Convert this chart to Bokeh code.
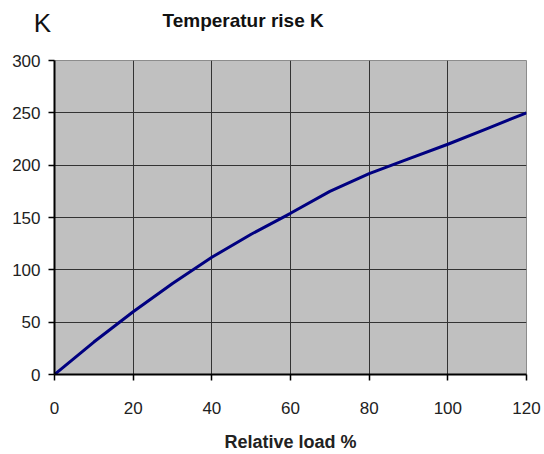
from bokeh.plotting import figure
from bokeh.models import Label, Range1d, FixedTicker
from bokeh.embed import file_html
from bokeh.resources import INLINE

load_pct = [0, 10, 20, 30, 40, 50, 60, 70, 80, 90, 100, 110, 120]
temp_rise = [0, 31, 60, 87, 112, 134, 154, 175, 192, 206, 220, 235, 250]
x_ticks = [0, 20, 40, 60, 80, 100, 120]
y_ticks = [0, 50, 100, 150, 200, 250, 300]

FONT = "Liberation Sans"

p = figure(width=544, height=454, output_backend="svg", toolbar_location=None,
           x_range=Range1d(0, 120), y_range=Range1d(0, 300),
           min_border_left=54, min_border_right=18, min_border_top=60, min_border_bottom=79,
           title="Temperatur rise K")
p.title.text_font = FONT
p.title.text_font_style = "bold"
p.title.text_font_size = "19px"
p.title.text_color = "#111111"
p.title.align = "left"
p.title.offset = 108
p.title.standoff = 0

p.border_fill_color = "white"
p.background_fill_color = "#c0c0c0"
p.outline_line_color = "#8c8c8c"
p.outline_line_width = 1

p.line(load_pct, temp_rise, line_color="#000080", line_width=3)

for ax in (p.xaxis[0], p.yaxis[0]):
    ax.axis_line_color = "black"
    ax.axis_line_width = 2
    ax.major_tick_line_color = "black"
    ax.major_tick_line_width = 1.5
    ax.major_tick_out = 6
    ax.major_tick_in = 0
    ax.minor_tick_line_color = None
    ax.major_label_text_font = FONT
    ax.major_label_text_font_size = "17px"
    ax.major_label_text_color = "#222222"

p.xaxis.ticker = FixedTicker(ticks=x_ticks)
p.yaxis.ticker = FixedTicker(ticks=y_ticks)
p.xaxis.major_label_standoff = 21
p.yaxis.major_label_standoff = 8
p.xaxis.axis_label = "Relative load %"
p.xaxis.axis_label_text_font = FONT
p.xaxis.axis_label_text_font_style = "bold"
p.xaxis.axis_label_text_font_size = "18px"
p.xaxis.axis_label_text_color = "#222222"
p.xaxis.axis_label_standoff = 15

p.grid.grid_line_color = "#333333"
p.grid.grid_line_width = 1
p.xgrid.ticker = FixedTicker(ticks=x_ticks)
p.ygrid.ticker = FixedTicker(ticks=y_ticks)

p.add_layout(Label(x=-12, y=38, x_units="screen", y_units="screen",
                   text="K", text_font=FONT, text_font_size="26px", text_color="#111111",
                   text_align="center", text_baseline="middle"), "above")

open("out.html", "w").write(file_html(p, INLINE))
